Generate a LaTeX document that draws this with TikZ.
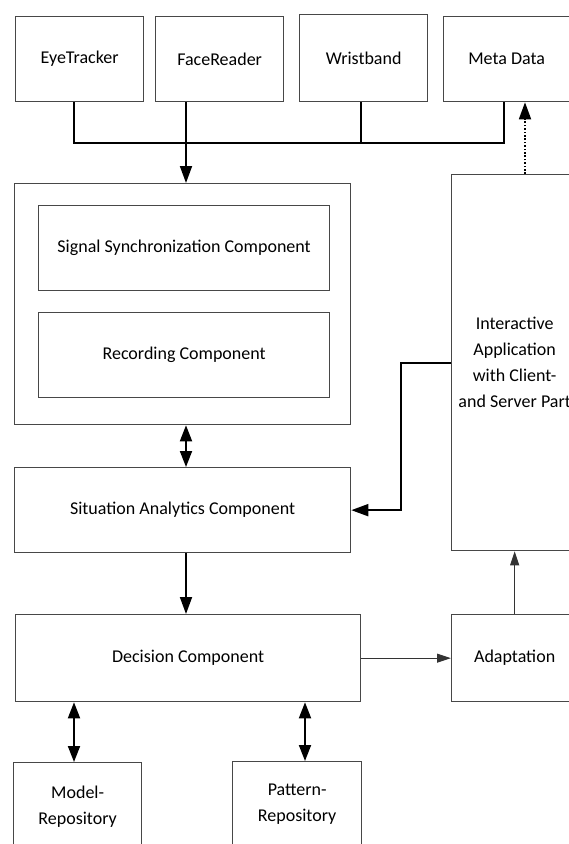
\documentclass[tikz,border=0pt]{standalone}
\usepackage{fontspec}
\setmainfont{Carlito}
\usetikzlibrary{arrows.meta}
\begin{document}
\begin{tikzpicture}[x=1pt,y=-1pt,
  box/.style={draw=black!72, line width=1.3pt, inner sep=0pt, align=center,
    font=\fontsize{18}{26}\selectfont, anchor=north west},
  conn/.style={line width=1.8pt, draw=black},
  thinconn/.style={line width=1.1pt, draw=black!80},
  tip/.style={-{Triangle[length=17pt,width=12pt]}},
  dtip/.style={{Triangle[length=16pt,width=12pt]}-{Triangle[length=16pt,width=12pt]}},
  smalltip/.style={-{Triangle[length=14pt,width=9pt]}}
]
\useasboundingbox (0,0) rectangle (569,844);
\clip (0,0) rectangle (569,844);
\fill[white] (0,0) rectangle (569,844);

% top sources
\node[box, minimum width=128pt, minimum height=85pt] (eye) at (15,16) {EyeTracker};
\node[box, minimum width=128pt, minimum height=85pt] (face) at (155,16) {FaceReader};
\node[box, minimum width=128pt, minimum height=87pt] (wrist) at (299,14) {Wristband};
\node[box, minimum width=126pt, minimum height=85pt] (meta) at (443,16) {Meta Data};

% recording block
\node[box, minimum width=336pt, minimum height=241pt] (outer) at (14,183) {};
\node[box, minimum width=291pt, minimum height=85pt] (sync) at (38,205) {Signal Synchronization Component};
\node[box, minimum width=291pt, minimum height=85pt] (rec) at (38,312) {Recording Component};

% application
\node[box, minimum width=126pt, minimum height=376pt] (app) at (451,174)
  {Interactive\\Application\\with Client-\\and Server Part};

% analytics and decision
\node[box, minimum width=336pt, minimum height=85pt] (sit) at (14,467) {Situation Analytics Component};
\node[box, minimum width=345pt, minimum height=87pt] (dec) at (15,614) {Decision Component};
\node[box, minimum width=126pt, minimum height=87pt] (adapt) at (451,614) {Adaptation};

% repositories
\node[box, minimum width=128pt, minimum height=88pt] (model) at (13,762) {Model-\\Repository};
\node[box, minimum width=129pt, minimum height=86pt] (pattern) at (232,761) {Pattern-\\Repository};

% helper coordinates
\coordinate (xe) at (74,0);
\coordinate (xf) at (186,0);
\coordinate (xw) at (361,0);
\coordinate (xm) at (504,0);
\coordinate (xd) at (525,0);
\coordinate (xp) at (305,0);
\coordinate (bus) at (0,143);

% connectors
\draw[conn] (eye.south -| xe) |- (bus -| xm) -- (meta.south -| xm);
\draw[conn] (wrist.south -| xw) -- (bus -| xw);
\draw[conn, tip] (face.south -| xf) -- (outer.north -| xf);
\draw[conn, tip, dash pattern=on 1.6pt off 1.8pt] (app.north -| xd) -- (meta.south -| xd);
\draw[conn, tip] (app.west) -- ++(-50,0) |- (sit.east);
\draw[conn, dtip] (outer.south -| xf) -- (sit.north -| xf);
\draw[conn, tip] (sit.south -| xf) -- (dec.north -| xf);
\draw[thinconn, smalltip] (dec.east) -- (adapt.west);
\draw[thinconn, smalltip] (adapt.north) -- (app.south);
\draw[conn, dtip] (dec.south -| xe) -- (model.north -| xe);
\draw[conn, dtip] (dec.south -| xp) -- (pattern.north -| xp);
\end{tikzpicture}
\end{document}
